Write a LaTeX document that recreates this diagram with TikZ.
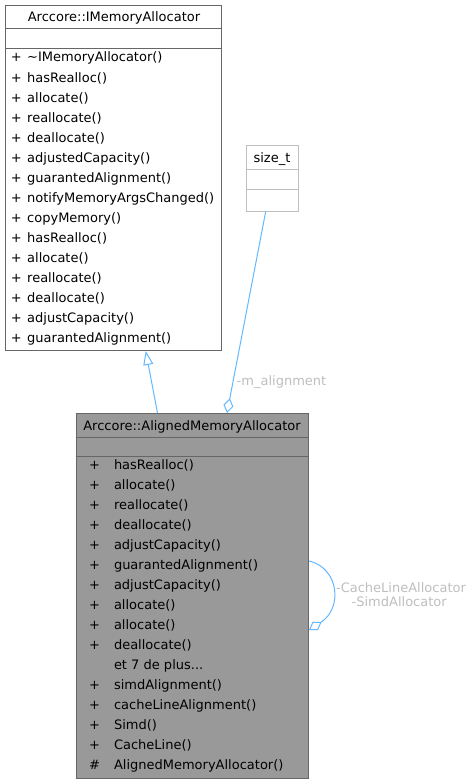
\documentclass[tikz,border=0pt]{standalone}
\usepackage{fontspec}
\setmainfont{DejaVu Sans}
\usetikzlibrary{arrows.meta,calc}

\definecolor{edgeblue}{HTML}{63B8FF}
\definecolor{boxline}{HTML}{666666}
\definecolor{boxfill}{HTML}{999999}
\definecolor{faintline}{HTML}{BFBFBF}
\definecolor{labelgrey}{HTML}{BEBEBE}

% hidden members line
\newcommand\moremembers{et 7 de plus...}

\begin{document}
\begin{tikzpicture}[x=1bp, y=-1bp,
  font=\fontsize{13bp}{15bp}\selectfont,
  classbox/.style={draw=boxline, line width=1bp, inner sep=0pt, anchor=north west, fill=white},
  txt/.style={inner sep=0pt, anchor=base west},
  ttl/.style={inner sep=0pt, anchor=base},
  sep/.style={draw=boxline, line width=1bp},
  edge/.style={draw=edgeblue, line width=1bp},
  lbl/.style={inner sep=0pt, text=labelgrey},
]
\useasboundingbox (0,0) rectangle (472,784);

% ---- Arccore::IMemoryAllocator ----
\node[classbox, minimum width=216bp, minimum height=345bp] (imem) at (5,5) {};
\draw[sep] ($(imem.north west)+(0,24)$) -- ($(imem.north east)+(0,24)$);
\draw[sep] ($(imem.north west)+(0,44)$) -- ($(imem.north east)+(0,44)$);
\node[ttl] (imemtitle) at (114,22) {Arccore::IMemoryAllocator};
\foreach \name [count=\i from 0] in {%
  \textasciitilde IMemoryAllocator(), hasRealloc(), allocate(), reallocate(),
  deallocate(), adjustedCapacity(), guarantedAlignment(),
  notifyMemoryArgsChanged(), copyMemory(), hasRealloc(), allocate(),
  reallocate(), deallocate(), adjustCapacity(), guarantedAlignment()} {
  \node[txt] (ip\i) at (10.8,{62+20*\i}) {+};
  \node[txt] (im\i) at (27,{62+20*\i}) {\name};
}

% ---- size_t ----
\node[classbox, draw=faintline, minimum width=52bp, minimum height=65.5bp] (sizet) at (246,145) {};
\draw[sep, draw=faintline] ($(sizet.north west)+(0,24)$) -- ($(sizet.north east)+(0,24)$);
\draw[sep, draw=faintline] ($(sizet.north west)+(0,44)$) -- ($(sizet.north east)+(0,44)$);
\node[ttl] (sizettitle) at (272,162) {size\_t};

% ---- Arccore::AlignedMemoryAllocator ----
\node[classbox, fill=boxfill, minimum width=232.5bp, minimum height=365bp] (alig) at (75.5,413) {};
\draw[sep] ($(alig.north west)+(0,24)$) -- ($(alig.north east)+(0,24)$);
\draw[sep] ($(alig.north west)+(0,43)$) -- ($(alig.north east)+(0,43)$);
\node[ttl] (aligtitle) at (192,430) {Arccore::AlignedMemoryAllocator};
\foreach \sym/\name [count=\i from 0] in {%
  +/hasRealloc(), +/allocate(), +/reallocate(), +/deallocate(),
  +/adjustCapacity(), +/guarantedAlignment(), +/adjustCapacity(),
  +/allocate(), +/allocate(), +/deallocate(), /\moremembers,
  +/simdAlignment(), +/cacheLineAlignment(), +/Simd(), +/CacheLine(),
  \#/AlignedMemoryAllocator()} {
  \node[txt] (ap\i) at (88.8,{469+20*\i}) {\sym};
  \node[txt] (am\i) at (113.8,{469+20*\i}) {\name};
}

% ---- inheritance ----
\draw[edge, -{Triangle[open, length=14bp, width=10bp, fill=white]}]
  ($(alig.north west)+(82,0)$) -- ($(imem.south west)+(140.7,0)$);

% ---- m_alignment member ----
\draw[edge, -{Diamond[open, length=15bp, width=10bp, fill=white]}]
  ($(sizet.south west)+(19.7,0)$) -- ($(alig.north west)+(151.5,0)$);
\node[lbl, anchor=base west] (malign) at (236.5,385) {-m\_alignment};

% ---- self association ----
\draw[edge, -{Diamond[open, length=15bp, width=10bp, fill=white]}]
  ($(alig.north east)+(0,148)$) .. controls ($(alig.north east)+(30,155)$)
  and ($(alig.north east)+(34,195)$) .. ($(alig.north east)+(0,217)$);
\node[lbl, anchor=base] (cachelbl) at (401,592) {-CacheLineAllocator};
\node[lbl, anchor=base] (simdlbl) at (399.2,606.5) {-SimdAllocator};
\end{tikzpicture}
\end{document}
